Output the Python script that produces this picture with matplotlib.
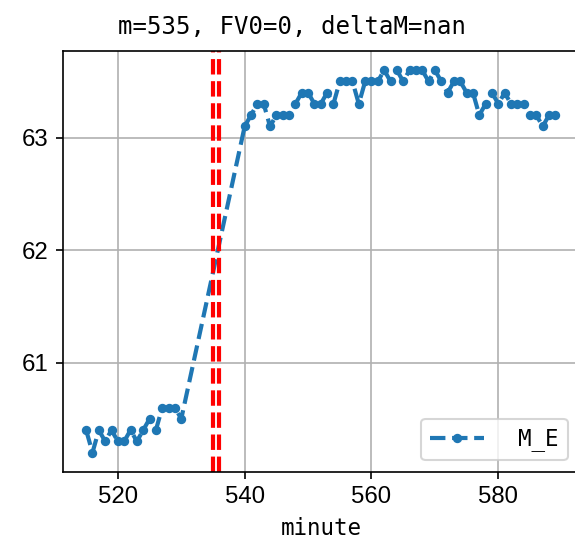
import numpy as np
import matplotlib
matplotlib.use('Agg')
import matplotlib.pyplot as plt
from matplotlib.ticker import MultipleLocator

# minutes with data (531-539 missing)
minutes = list(range(515, 531)) + list(range(540, 590))
m_e = [
    60.4, 60.2, 60.4, 60.3, 60.4, 60.3, 60.3, 60.4,
    60.3, 60.4, 60.5, 60.4, 60.6, 60.6, 60.6, 60.5,
    63.1, 63.2, 63.3, 63.3, 63.1, 63.2, 63.2, 63.2, 63.3, 63.4,
    63.4, 63.3, 63.3, 63.4, 63.3, 63.5, 63.5, 63.5, 63.3, 63.5,
    63.5, 63.5, 63.6, 63.5, 63.6, 63.5, 63.6, 63.6, 63.6, 63.5,
    63.6, 63.5, 63.4, 63.5, 63.5, 63.4, 63.4, 63.2, 63.3, 63.4,
    63.3, 63.4, 63.3, 63.3, 63.3, 63.2, 63.2, 63.1, 63.2, 63.2,
]
event_lines = [535, 536]
title = "m=535, FV0=0, deltaM=nan"

mono = 'DejaVu Sans Mono'

fig = plt.figure(figsize=(575 / 150, 551 / 150), dpi=150)
ax = fig.add_axes([0.109, 0.1439, 0.8977, 0.7635])

ax.plot(minutes, m_e, '.--', color='#1f77b4', label='M_E',
        linewidth=2, markersize=7)
for x in event_lines:
    ax.axvline(x, color='r', linestyle='--', linewidth=2)

ax.yaxis.set_major_locator(MultipleLocator(1))
ax.grid(True)
ax.set_title(title, family=mono, fontsize=11.5, x=0.444, pad=8)
ax.set_xlabel('minute', family=mono, fontsize=10.8)
for lab in ax.get_xticklabels() + ax.get_yticklabels():
    lab.set_family('Liberation Sans')
    lab.set_fontsize(11.5)

ax.legend(loc='lower right', prop={'family': mono, 'size': 10.8},
          handlelength=2.4, handletextpad=1.5)

fig.savefig('out.png', dpi=150)
